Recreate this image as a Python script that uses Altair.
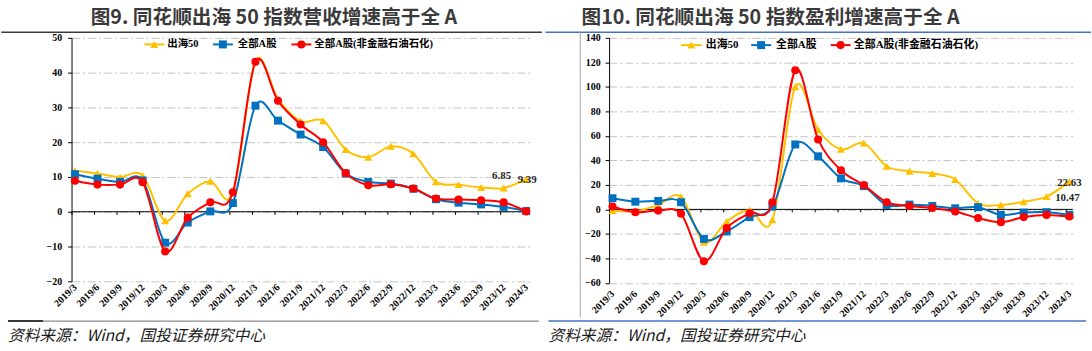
import altair as alt
import pandas as pd

quarters = ["2019/3", "2019/6", "2019/9", "2019/12", "2020/3", "2020/6", "2020/9", "2020/12",
            "2021/3", "2021/6", "2021/9", "2021/12", "2022/3", "2022/6", "2022/9", "2022/12",
            "2023/3", "2023/6", "2023/9", "2023/12", "2024/3"]

series_names = ["出海50", "全部A股", "全部A股(非金融石油石化)"]
series_colors = ["#FFC000", "#0070C0", "#FF0000"]
series_shapes = ["triangle-up", "square", "circle"]
series_sizes = [66, 64, 66]

# 图9 营收增速 (%)
rev_chuhai = [11.8, 11.0, 10.0, 10.4, -2.6, 5.2, 8.8, 5.3, 43.3, 32.4, 26.0, 26.2, 17.9, 15.7,
              18.8, 16.7, 8.6, 7.8, 7.0, 6.85, 9.39]
rev_all = [10.8, 9.5, 8.6, 9.0, -8.9, -3.1, 0.1, 2.5, 30.5, 26.2, 22.2, 18.6, 11.0, 8.6,
           8.1, 6.6, 3.6, 2.6, 2.1, 1.4, 0.2]
rev_exfin = [8.9, 7.8, 7.8, 8.5, -11.4, -1.7, 2.7, 5.6, 43.1, 31.9, 25.1, 20.0, 11.1, 7.6,
             7.9, 6.7, 3.8, 3.5, 3.3, 2.7, 0.1]

# 图10 盈利增速 (%)
prof_chuhai = [-1.0, -1.5, 3.6, 10.4, -26.9, -9.9, -0.4, -8.5, 100.0, 65.0, 49.0, 54.1, 35.2, 31.2,
               29.3, 24.4, 5.0, 3.6, 6.3, 10.47, 22.63]
prof_all = [9.1, 6.3, 6.9, 5.8, -24.1, -18.0, -6.3, 2.3, 53.0, 43.3, 25.3, 19.0, 3.6, 3.9,
            2.8, 0.9, 1.8, -4.5, -2.6, -2.3, -4.5]
prof_exfin = [2.3, -2.3, -1.0, -3.6, -42.3, -15.2, -3.1, 5.8, 113.5, 57.1, 32.0, 19.8, 5.8, 2.8,
              1.2, -1.8, -7.1, -10.4, -6.3, -4.5, -5.8]

titles = ["图9. 同花顺出海 50 指数营收增速高于全 A", "图10. 同花顺出海 50 指数盈利增速高于全 A"]
source_text = "资料来源：Wind，国投证券研究中心"

FONT_SERIF = "Liberation Serif, Noto Sans CJK SC"
FONT_SANS = "Noto Sans CJK SC"


def one_row():
    return pd.DataFrame({"k": [0]})


def make_panel(cfg):
    ox, oy = cfg["origin"]
    W, H = cfg["width"], cfg["height"]

    def rx(a):
        return a - ox

    def ry(a):
        return a - oy

    x_enc = alt.X(
        "quarter:N", sort=quarters,
        scale=alt.Scale(type="point", padding=cfg["xpad"]),
        axis=alt.Axis(title=None, labelAngle=-45, labelAlign="right", labelBaseline="middle",
                      domain=False, ticks=False, labelPadding=cfg["xlabpad"], labelOverlap=False),
    )
    ymin, ymax, ystep = cfg["ydomain"]
    y_enc = alt.Y(
        "value:Q",
        scale=alt.Scale(domain=[ymin, ymax], nice=False, zero=False),
        axis=alt.Axis(title=None, values=list(range(ymin, ymax + 1, ystep)),
                      labelPadding=cfg["ylabpad"]),
    )

    layers = []
    # invisible bounds (white) to fix panel extents
    layers.append(alt.Chart(one_row()).mark_rule(color="#FFFFFF", strokeWidth=1).encode(
        x=alt.value(rx(cfg["left"])), x2=alt.value(rx(cfg["right"])), y=alt.value(ry(0.5))))

    base_df = pd.DataFrame({"quarter": quarters, "value": cfg["series"][0]})
    # axes carrier layer (transparent line)
    layers.append(alt.Chart(base_df).mark_line(opacity=0).encode(x=x_enc, y=y_enc))

    # zero line and tick marks
    zero_df = pd.DataFrame({"value": [0]})
    layers.append(alt.Chart(zero_df).mark_rule(color="#000000", strokeWidth=1).encode(
        y=y_enc))
    tick_df = pd.DataFrame({"quarter": quarters, "value": [0] * len(quarters),
                            "v2": [-cfg["ticklen"]] * len(quarters)})
    layers.append(alt.Chart(tick_df).mark_rule(color="#000000", strokeWidth=1, xOffset=-3).encode(
        x=x_enc, y=y_enc, y2="v2:Q"))

    # series
    for name, vals, col, shp, sz in zip(series_names, cfg["series"], series_colors,
                                        series_shapes, series_sizes):
        df = pd.DataFrame({"quarter": quarters, "value": vals, "series": name})
        layers.append(alt.Chart(df).mark_line(color=col, strokeWidth=2, interpolate="cardinal")
                      .encode(x=x_enc, y=y_enc))
        layers.append(alt.Chart(df).mark_point(shape=shp, filled=True, size=sz, color=col,
                                               opacity=1, strokeWidth=0)
                      .encode(x=x_enc, y=y_enc))

    # data labels on 出海50
    for idx, dx, dy in cfg["labels"]:
        v = cfg["series"][0][idx]
        ldf = pd.DataFrame({"quarter": [quarters[idx]], "value": [v], "txt": [f"{v:.2f}"]})
        layers.append(alt.Chart(ldf).mark_text(font=FONT_SERIF, fontWeight="bold", fontSize=11,
                                               color="#262626", dx=dx, dy=dy, align="center",
                                               baseline="middle")
                      .encode(x=x_enc, y=y_enc, text="txt:N"))

    # legend
    ly = cfg["legend_y"]
    for (lx1, lx2, tx), name, col, shp, sz in zip(cfg["legend"], series_names, series_colors,
                                                  series_shapes, series_sizes):
        layers.append(alt.Chart(one_row()).mark_rule(color=col, strokeWidth=2).encode(
            x=alt.value(rx(lx1)), x2=alt.value(rx(lx2)), y=alt.value(ry(ly))))
        layers.append(alt.Chart(one_row()).mark_point(shape=shp, filled=True, size=sz, color=col,
                                                      opacity=1, strokeWidth=0).encode(
            x=alt.value(rx((lx1 + lx2) / 2)), y=alt.value(ry(ly))))
        layers.append(alt.Chart(one_row()).mark_text(font=FONT_SERIF, fontWeight="bold",
                                                     fontSize=cfg["legend_fs"], color="#000000",
                                                     align="left", baseline="middle").encode(
            x=alt.value(rx(tx)), y=alt.value(ry(ly)), text=alt.value(name)))

    # decorative frame lines
    for (x1, x2, yy, col, w) in cfg["hlines"]:
        layers.append(alt.Chart(one_row()).mark_rule(color=col, strokeWidth=w).encode(
            x=alt.value(rx(x1)), x2=alt.value(rx(x2)), y=alt.value(ry(yy))))
    for (xx, y1, y2, col, w) in cfg["vlines"]:
        layers.append(alt.Chart(one_row()).mark_rule(color=col, strokeWidth=w).encode(
            x=alt.value(rx(xx)), y=alt.value(ry(y1)), y2=alt.value(ry(y2))))

    # title
    layers.append(alt.Chart(one_row()).mark_text(font=FONT_SANS, fontWeight="bold", fontSize=19.8,
                                                 color="#3A3A3A", align="left",
                                                 baseline="alphabetic").encode(
        x=alt.value(rx(cfg["title_x"])), y=alt.value(ry(22.8)), text=alt.value(cfg["title"])))
    # source
    layers.append(alt.Chart(one_row()).mark_text(font=FONT_SANS, fontStyle="italic", fontSize=15.8,
                                                 color="#1A1A1A", align="left",
                                                 baseline="alphabetic").encode(
        x=alt.value(rx(cfg["src_x"])), y=alt.value(ry(341.5)), text=alt.value(source_text)))

    return alt.layer(*layers).properties(width=W, height=H)


left_cfg = dict(
    origin=(70.7, 36.7), width=461, height=245, xpad=0.15, xlabpad=4, ylabpad=6,
    ydomain=(-20, 50, 10), ticklen=0.9,
    series=[rev_chuhai, rev_all, rev_exfin],
    labels=[(19, -2, -12), (20, 1, 1)],
    legend_y=43.3, legend_fs=10.5,
    legend=[(144, 164, 167), (213, 233, 238), (292, 312, 315)],
    hlines=[(0, 544, 31, "#3A3A3A", 1.5), (42, 541, 321.7, "#8C8C8C", 1.2),
            (6.7, 42, 321.7, "#3A3A3A", 2)],
    vlines=[],
    title=titles[0], title_x=90, src_x=6.7,
    left=0, right=546,
)

right_cfg = dict(
    origin=(607, 36.7), width=466.7, height=246.6, xpad=0.15, xlabpad=9, ylabpad=5,
    ydomain=(-60, 140, 20), ticklen=2.4,
    series=[prof_chuhai, prof_all, prof_exfin],
    labels=[(19, 21, 1), (20, 0, 1)],
    legend_y=44, legend_fs=11,
    legend=[(679.3, 700, 704.3), (750, 770, 775), (830, 850, 853.3)],
    hlines=[(543, 1092, 31, "#4472C4", 1.5), (546, 1087, 321.7, "#4472C4", 1.5)],
    vlines=[(578, 31, 318, "#A6A6A6", 1)],
    title=titles[1], title_x=579.3, src_x=546,
    left=546, right=1092,
)

chart = alt.hconcat(make_panel(left_cfg), make_panel(right_cfg), spacing=0).properties(
    padding=0
).configure_view(stroke=None).configure_axis(
    labelFont=FONT_SERIF, labelFontWeight="bold", labelFontSize=10, labelColor="#000000",
).configure_axisY(
    grid=True, gridColor="#C4C4C4", gridDash=[8, 3, 2, 3], gridWidth=1,
    domainColor="#000000", domainWidth=1, tickColor="#000000", tickSize=4,
    labelOverlap=False, labelFlush=False,
).configure_axisX(grid=False)

chart.save("out.html", embed_options={"renderer": "svg", "actions": False})
